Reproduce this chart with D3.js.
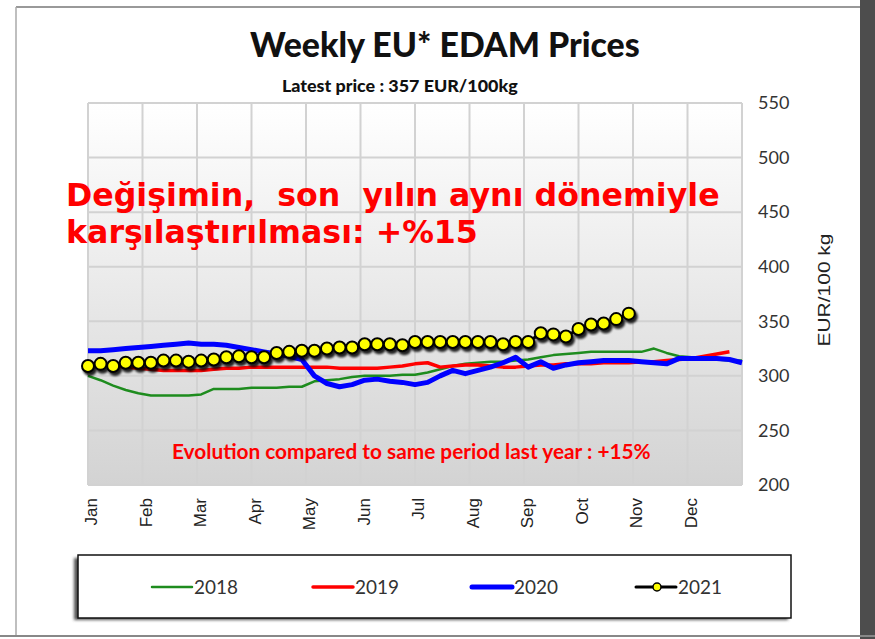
<!DOCTYPE html>
<html>
<head>
<meta charset="utf-8">
<script src="https://cdn.jsdelivr.net/npm/d3@7"></script>
<style>
	body { margin: 0; background: #fff; }
	text { font-family: Lato, "Open Sans", sans-serif; }
</style>
</head>
<body>
<svg id="chart" width="875" height="639"></svg>
<script>
// values, one entry per week
var months = ["Jan","Feb","Mar","Apr","May","Jun","Jul","Aug","Sep","Oct","Nov","Dec"];
var yTicks = [200, 250, 300, 350, 400, 450, 500, 550];
var years = ["2018", "2019", "2020", "2021"];
var colors = ["#1e8c1e", "#ff0000", "#0000ff", "#000000"];
var widths = [2.5, 3.5, 5, 3];

var prices2018 = [300,296,291,287,284,282,282,282,282,283,288,288,288,289,289,289,290,290,295,296,297,299,300,300,300,301,301,303,306,309,311,312,313,313,314,315,317,319,320,321,322,322,322,322,322,325,321,318,317,316,315,314,314];
var prices2019 = [311,310,309,308,307,306,305,305,305,305,306,307,307,308,308,308,308,308,308,308,307,307,307,307,308,309,311,312,308,309,310,310,309,308,308,309,310,310,311,311,311,312,312,312,313,313,314,315,316,318,320,322];
var prices2020 = [323,323,324,325,326,327,328,329,330,329,329,328,326,324,322,320,318,315,300,293,290,292,296,297,295,294,292,294,300,305,302,305,308,312,317,308,313,307,310,312,313,314,314,314,313,312,311,316,316,316,316,315,312];
var prices2021 = [309,311,309,312,312,312,314,314,313,314,315,317,318,317,317,321,322,323,323,325,326,326,329,329,329,328,331,331,331,331,331,331,331,329,331,331,339,338,336,343,347,348,352,357];

var svg = d3.select("#chart");

function fitWidth(sel, w) {
	sel.each(function() {
		var t = d3.select(this);
		var fs = parseFloat(t.style("font-size"));
		var len = this.getComputedTextLength();
		t.style("font-size", (fs * w / len) + "px");
	});
}

// page frame
svg.append("rect").attr("x", 860).attr("y", 0).attr("width", 15).attr("height", 639).attr("fill", "#4d4d4d");
svg.append("line").attr("x1", 16).attr("x2", 860).attr("y1", 7).attr("y2", 7).attr("stroke", "#999").attr("stroke-width", 2);
svg.append("line").attr("x1", 16).attr("x2", 16).attr("y1", 7).attr("y2", 636).attr("stroke", "#aaa").attr("stroke-width", 1.5);
svg.append("line").attr("x1", 0).attr("x2", 875).attr("y1", 636).attr("y2", 636).attr("stroke", "#888").attr("stroke-width", 2);

var plotL = 88, plotR = 742, plotT = 103, plotB = 485;
var x = d3.scaleLinear().domain([0, 52]).range([plotL, plotR]);
var xm = d3.scaleLinear().domain([0, 12]).range([plotL, plotR]);
var y = d3.scaleLinear().domain([200, 550]).range([plotB, plotT]);

var defs = svg.append("defs");
var grad = defs.append("linearGradient").attr("id", "bg").attr("x1", 0).attr("x2", 0).attr("y1", 0).attr("y2", 1);
grad.append("stop").attr("offset", "0%").attr("stop-color", "#ffffff");
grad.append("stop").attr("offset", "100%").attr("stop-color", "#d3d3d3");
defs.append("filter").attr("id", "blur").append("feGaussianBlur").attr("stdDeviation", 1.3);
defs.append("filter").attr("id", "blur2").append("feGaussianBlur").attr("stdDeviation", 1.5);

svg.append("rect").attr("x", plotL).attr("y", plotT).attr("width", plotR - plotL).attr("height", plotB - plotT).attr("fill", "url(#bg)");

// grid
svg.append("g").selectAll("line").data(d3.range(0, 13)).enter().append("line")
	.attr("x1", function(d) { return xm(d); }).attr("x2", function(d) { return xm(d); })
	.attr("y1", plotT).attr("y2", plotB)
	.attr("stroke", "#d2d2d2").attr("stroke-width", 2);
svg.append("g").selectAll("line").data(yTicks).enter().append("line")
	.attr("x1", plotL).attr("x2", plotR)
	.attr("y1", function(d) { return y(d); }).attr("y2", function(d) { return y(d); })
	.attr("stroke", "#d2d2d2").attr("stroke-width", 2);

// y axis on the right
var yAxis = svg.append("g").attr("transform", "translate(" + plotR + ",0)")
	.call(d3.axisRight(y).tickValues(yTicks).tickSize(0).tickPadding(16));
yAxis.select(".domain").remove();
yAxis.selectAll("text").style("font-family", "Lato").style("font-size", "18px").attr("fill", "#333");

svg.append("text")
	.attr("transform", "translate(830,290) rotate(-90)")
	.attr("text-anchor", "middle")
	.attr("textLength", 113)
	.attr("lengthAdjust", "spacingAndGlyphs")
	.style("font-family", "'Liberation Sans', Arial, sans-serif")
	.style("font-size", "16px")
	.attr("fill", "#222")
	.text("EUR/100 kg");

// month labels
var xAxis = svg.append("g").attr("transform", "translate(0," + plotB + ")")
	.call(d3.axisBottom(xm).tickValues(d3.range(0, 12)).tickSize(0).tickFormat(function(d) { return months[d]; }));
xAxis.select(".domain").remove();
xAxis.selectAll("text")
	.style("font-family", "'Liberation Sans', Arial, sans-serif")
	.style("font-size", "17px")
	.attr("fill", "#222")
	.attr("text-anchor", "end")
	.attr("y", 0)
	.attr("transform", "translate(3,13) rotate(-90)")
	.attr("x", 0)
	.attr("dy", "0.35em");

// series lines
var line = d3.line().x(function(d, i) { return x(i); }).y(function(d) { return y(d); });
var all = [prices2018, prices2019, prices2020, prices2021];
all.forEach(function(s, k) {
	svg.append("path").datum(s)
		.attr("d", line)
		.attr("fill", "none")
		.attr("stroke", colors[k])
		.attr("stroke-width", widths[k])
		.attr("stroke-linejoin", "round");
});

// 2021 markers with shadow
svg.append("g").selectAll("circle").data(prices2021).enter().append("circle")
	.attr("cx", function(d, i) { return x(i) + 2; })
	.attr("cy", function(d) { return y(d) + 3; })
	.attr("r", 7).attr("fill", "#000").attr("opacity", 0.85)
	.attr("filter", "url(#blur)");
svg.append("g").selectAll("circle").data(prices2021).enter().append("circle")
	.attr("cx", function(d, i) { return x(i); })
	.attr("cy", function(d) { return y(d); })
	.attr("r", 6).attr("fill", "#ffff00").attr("stroke", "#000").attr("stroke-width", 2);

// titles
var title = svg.append("text").attr("x", 250).attr("y", 57)
	.style("font-weight", "900").style("font-size", "28px").attr("fill", "#111")
	.text("Weekly EU* EDAM Prices");
fitWidth(title, 390);
var sub = svg.append("text").attr("x", 282).attr("y", 92)
	.style("font-weight", "900").style("font-size", "15px").attr("fill", "#111")
	.text("Latest price : 357 EUR/100kg");
fitWidth(sub, 236);

var evo = svg.append("text").attr("x", 172).attr("y", 459)
	.style("font-weight", "bold").style("font-size", "18px").attr("fill", "#ff0000")
	.text("Evolution compared to same period last year : +15%");
fitWidth(evo, 479);

// Turkish overlay note
var note1 = svg.append("text").attr("x", 66).attr("y", 206)
	.style("font-family", "'DejaVu Sans', Verdana, sans-serif")
	.style("font-weight", "bold").style("font-size", "27px").style("white-space", "pre")
	.attr("fill", "#ff0000")
	.text("Değişimin,  son  yılın aynı dönemiyle");
fitWidth(note1, 654);
svg.append("text").attr("x", 66).attr("y", 243)
	.style("font-family", "'DejaVu Sans', Verdana, sans-serif")
	.style("font-weight", "bold").style("font-size", note1.style("font-size")).style("white-space", "pre")
	.attr("fill", "#ff0000")
	.text("karşılaştırılması: +%15");

// legend
svg.append("rect").attr("x", 74).attr("y", 558).attr("width", 714).attr("height", 62)
	.attr("fill", "#555").attr("filter", "url(#blur2)");
svg.append("rect").attr("x", 78).attr("y", 555).attr("width", 713).attr("height", 63)
	.attr("fill", "#fff").attr("stroke", "#111").attr("stroke-width", 1.5);

var legX = [152, 313, 472, 636];
years.forEach(function(name, k) {
	var g = svg.append("g").attr("transform", "translate(" + legX[k] + ",587)");
	g.append("line").attr("x1", 0).attr("x2", 40).attr("y1", 0).attr("y2", 0)
		.attr("stroke", colors[k]).attr("stroke-width", widths[k]).attr("stroke-linecap", "round");
	if (k == 3) {
		g.append("circle").attr("cx", 21).attr("cy", 0).attr("r", 4)
			.attr("fill", "#ffff00").attr("stroke", "#000").attr("stroke-width", 1.5);
	}
	var t = g.append("text").attr("x", 42).attr("y", 7)
		.style("font-size", "20px").attr("fill", "#333").text(name);
	fitWidth(t, 44);
});
</script>
</body>
</html>
